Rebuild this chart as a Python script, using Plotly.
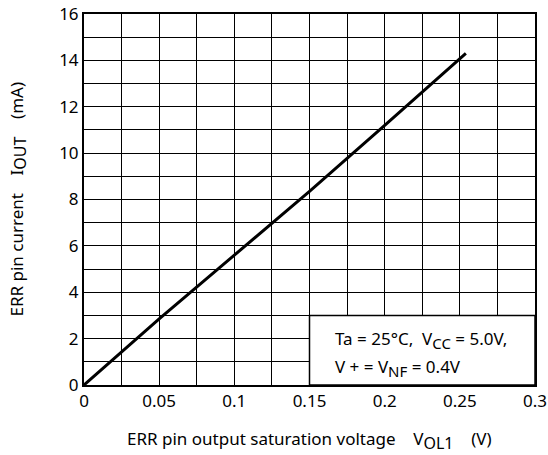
import plotly.graph_objects as go

# Data
v_ol1 = [0.0, 0.05, 0.10, 0.15, 0.20, 0.254]
i_out = [0.0, 2.85, 5.6, 8.35, 11.2, 14.3]

x_ticks = [0, 0.05, 0.1, 0.15, 0.2, 0.25, 0.3]
x_tick_labels = ["0", "0.05", "0.1", "0.15", "0.2", "0.25", "0.3"]
y_ticks = [0, 2, 4, 6, 8, 10, 12, 14, 16]
y_tick_labels = [str(v) for v in y_ticks]

FONT = "Noto Sans"
NB = "\u00a0"


def sub(s, size):
    return "<sub><span style='font-size:%dpx'>%s</span></sub>" % (size, s)


fig = go.Figure()
fig.add_trace(go.Scatter(x=v_ol1, y=i_out, mode="lines",
                         line=dict(color="black", width=3), showlegend=False,
                         hoverinfo="skip"))

fig.update_xaxes(range=[0, 0.3], tickvals=x_ticks, ticktext=x_tick_labels,
                 showgrid=True, gridcolor="black", gridwidth=1,
                 minor=dict(dtick=0.025, tick0=0, showgrid=True, gridcolor="black", gridwidth=1),
                 showline=True, linecolor="black", linewidth=2, mirror=True,
                 zeroline=False, ticks="", automargin=False, ticklabeloverflow="allow",
                 tickfont=dict(family=FONT, size=17, color="black"))
fig.update_yaxes(range=[0, 16], tickvals=y_ticks, ticktext=y_tick_labels,
                 showgrid=True, gridcolor="black", gridwidth=1,
                 minor=dict(dtick=1, tick0=0, showgrid=True, gridcolor="black", gridwidth=1),
                 showline=True, linecolor="black", linewidth=2, mirror=True,
                 zeroline=False, ticks="", automargin=False, ticklabeloverflow="allow",
                 tickfont=dict(family=FONT, size=17, color="black"))

# Condition box (covers grid)
fig.add_shape(type="rect", xref="x", yref="y", x0=0.15, x1=0.3, y0=0, y1=3,
              fillcolor="white", line=dict(color="black", width=1.5), layer="above")

fig.add_annotation(xref="x", yref="y", x=0.1655, y=1.95, xanchor="left", yanchor="middle",
                   text="Ta = 25°C," + NB + " V" + sub("CC", 15) + " = 5.0V,", showarrow=False,
                   font=dict(family=FONT, size=17, color="black"))
fig.add_annotation(xref="x", yref="y", x=0.1655, y=0.75, xanchor="left", yanchor="middle",
                   text="V + = V" + sub("NF", 15) + " = 0.4V", showarrow=False,
                   font=dict(family=FONT, size=17, color="black"))

# Axis titles
fig.add_annotation(xref="paper", yref="paper", x=0.5, y=0, xanchor="center", yanchor="middle",
                   yshift=-55,
                   text="ERR pin output saturation voltage" + NB * 4 + "V" + sub("OL1", 16)
                        + NB * 4 + "(V)",
                   showarrow=False, font=dict(family=FONT, size=17, color="black"))
fig.add_annotation(xref="paper", yref="paper", x=0, y=0.5, xanchor="center", yanchor="middle",
                   xshift=-66, textangle=-90,
                   text="ERR pin current" + NB * 4 + "I" + sub("OUT", 16) + NB * 4 + "(mA)",
                   showarrow=False, font=dict(family=FONT, size=17, color="black"))

fig.update_layout(width=548, height=455, margin=dict(l=84, r=13, t=14, b=70),
                  paper_bgcolor="white", plot_bgcolor="white",
                  font=dict(family=FONT, color="black"))

fig.write_html("out.html")
